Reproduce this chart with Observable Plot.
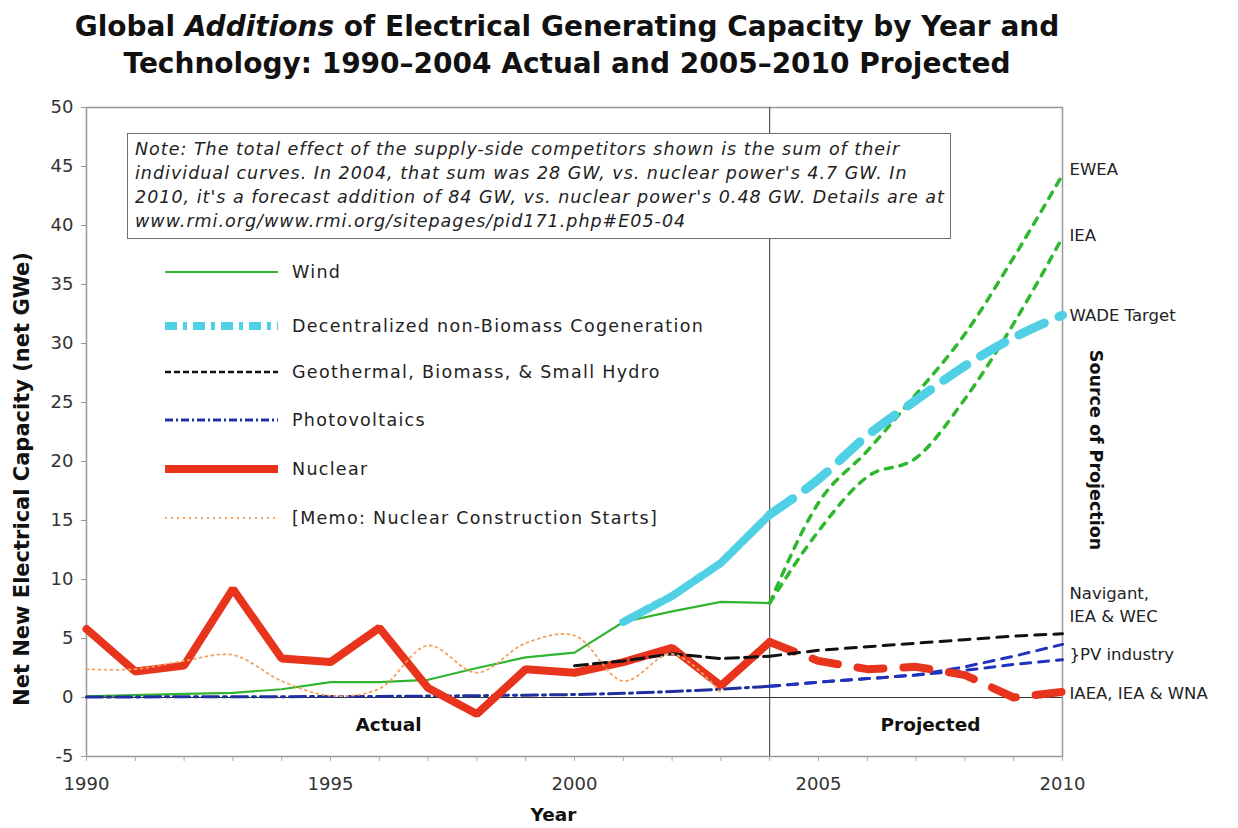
<!DOCTYPE html>
<html>
<head>
<meta charset="utf-8">
<script src="https://cdn.jsdelivr.net/npm/d3@7"></script>
<script src="https://cdn.jsdelivr.net/npm/@observablehq/plot@0.6"></script>
<style>
  body { margin: 0; background: #fff; font-family: "DejaVu Sans", Verdana, sans-serif; color: #222; }
  #wrap { position: relative; width: 1238px; height: 828px; overflow: hidden; }
  #title { position: absolute; left: 0; top: 0; width: 1134px; height: 90px; padding-top: 8px; box-sizing: border-box;
           text-align: center; font-weight: bold; font-size: 28px; line-height: 37px; color: #111; white-space: nowrap; }
  #chart { position: absolute; left: 0; top: 90px; }
  #note { position: absolute; left: 127px; top: 133px; width: 824px; height: 106px; box-sizing: border-box;
          border: 1.8px solid #707070; background: #fff; padding: 3px 7px; font-style: italic; font-size: 17.5px;
          letter-spacing: 1px; line-height: 24px; color: #222; white-space: nowrap; overflow: hidden; }
  #legend { position: absolute; left: 165px; top: 262px; }
  .lrow { position: absolute; left: 0; height: 20px; white-space: nowrap; }
  .lrow svg { position: absolute; left: 0; top: 4px; }
  .lrow span { position: absolute; left: 127px; top: -1px; font-size: 17.5px; letter-spacing: 1.3px; line-height: 22px; color: #222; }
  svg text.wide { letter-spacing: 1px; }
  svg text.ylab { letter-spacing: 1.7px; }
  svg text.src { letter-spacing: 1.3px; }
</style>
</head>
<body>
<div id="wrap">
  <div id="title">Global <i>Additions</i> of Electrical Generating Capacity by Year and<br>Technology: 1990–2004 Actual and 2005–2010 Projected</div>
  <div id="chart"></div>
  <div id="note">Note: The total effect of the supply-side competitors shown is the sum of their<br>individual curves. In 2004, that sum was 28 GW, vs. nuclear power's 4.7 GW. In<br>2010, it's a forecast addition of 84 GW, vs. nuclear power's 0.48 GW. Details are at<br>www.rmi.org/www.rmi.org/sitepages/pid171.php#E05-04</div>
  <div id="legend"></div>
</div>
<script>
// ---------- data ----------
const actualYears = [1990, 1991, 1992, 1993, 1994, 1995, 1996, 1997, 1998, 1999, 2000, 2001, 2002, 2003, 2004];
const windActual    = [0.1, 0.2, 0.3, 0.4, 0.7, 1.3, 1.3, 1.5, 2.5, 3.4, 3.8, 6.4, 7.3, 8.1, 8.0];
const nuclearActual = [5.8, 2.2, 2.7, 9.2, 3.3, 3.0, 5.9, 0.8, -1.4, 2.4, 2.1, 3.0, 4.2, 1.0, 4.7];
const pvActual      = [0.05, 0.05, 0.06, 0.06, 0.07, 0.08, 0.09, 0.12, 0.15, 0.2, 0.25, 0.35, 0.5, 0.7, 0.95];

const memoYears = [1990, 1991, 1992, 1993, 1994, 1995, 1996, 1997, 1998, 1999, 2000, 2001, 2002, 2003];
const memoStarts = [2.4, 2.4, 3.1, 3.6, 1.4, 0.15, 0.75, 4.4, 2.1, 4.6, 5.25, 1.4, 3.7, 0.4];

const geoYears = [2000, 2001, 2002, 2003, 2004];
const geoActual = [2.7, 3.1, 3.7, 3.3, 3.5];

const cogenYears = [2001, 2002, 2003, 2004];
const cogenActual = [6.4, 8.6, 11.4, 15.5];

const projYears = [2004, 2005, 2006, 2007, 2008, 2009, 2010];
const windEWEA    = [8.0, 16.5, 20.9, 25.7, 30.8, 37.3, 44.3];
const windIEA     = [8.0, 14.1, 18.7, 20.3, 25.3, 31.7, 39.0];
const cogenWADE   = [15.5, 18.5, 22.2, 25.2, 28.1, 30.5, 32.4];
const geoProj     = [3.5, 4.0, 4.3, 4.6, 4.9, 5.2, 5.4];
const pvHigh      = [0.95, 1.3, 1.6, 1.9, 2.6, 3.5, 4.5];
const pvLow       = [0.95, 1.3, 1.6, 1.9, 2.3, 2.8, 3.2];
const nuclearProj = [4.7, 3.1, 2.4, 2.6, 1.9, 0.0, 0.48];

const legendLabels = ["Wind", "Decentralized non-Biomass Cogeneration", "Geothermal, Biomass, & Small Hydro",
                      "Photovoltaics", "Nuclear", "[Memo: Nuclear Construction Starts]"];
const sourceLabels = ["EWEA", "IEA", "WADE Target", "Navigant,\nIEA & WEC", "}PV industry", "IAEA, IEA & WNA"];
const sourceLabelValues = [44.9, 39.3, 32.5, 8.0, 3.8, 0.5];
const yTicks = [-5, 0, 5, 10, 15, 20, 25, 30, 35, 40, 45, 50];
const xTicks = [1990, 1995, 2000, 2005, 2010];

// ---------- styles ----------
const S = {
  wind:    {stroke: "#2fb52f", strokeWidth: 2.2},
  windP:   {stroke: "#2db82d", strokeWidth: 3.5, strokeDasharray: "7,8"},
  cogen:   {stroke: "#4fd0e4", strokeWidth: 8, strokeDasharray: "30,4,10,4"},
  cogenP:  {stroke: "#4fd0e4", strokeWidth: 9, strokeDasharray: "28,16", strokeLinecap: "round"},
  geo:     {stroke: "#111", strokeWidth: 3, strokeDasharray: "13,6"},
  geoP:    {stroke: "#111", strokeWidth: 3, strokeDasharray: "11,8"},
  pv:      {stroke: "#1f2f9f", strokeWidth: 3, strokeDasharray: "16,5,3,5"},
  pvP:     {stroke: "#2233bb", strokeWidth: 3, strokeDasharray: "10,8"},
  nuc:     {stroke: "#e8341c", strokeWidth: 8, strokeLinejoin: "miter"},
  nucP:    {stroke: "#e8341c", strokeWidth: 8, strokeDasharray: "26,20"},
  memo:    {stroke: "#f3a35f", strokeWidth: 1.8, strokeDasharray: "2,4"}
};
const legendStyles = [S.wind, {stroke: "#4fd0e4", strokeWidth: 8, strokeDasharray: "12,6,4,6"}, {stroke: "#111", strokeWidth: 2.5, strokeDasharray: "6,3"},
                      {stroke: "#2233aa", strokeWidth: 3, strokeDasharray: "8,3,2,3"}, {stroke: "#e8341c", strokeWidth: 8}, S.memo];

const rows = (xs, ys) => xs.map((x, i) => ({year: x, value: ys[i]}));
const line = (xs, ys, style, extra = {}) => Plot.line(rows(xs, ys), {x: "year", y: "value", ...style, ...extra});
const bold = {fontWeight: "bold", fill: "#111", className: "wide", textAnchor: "middle"};

const chart = Plot.plot({
  width: 1238, height: 738,
  marginTop: 17, marginBottom: 72, marginLeft: 86, marginRight: 176,
  x: {domain: [1990, 2010]},
  y: {domain: [-5, 50]},
  style: {fontFamily: "'DejaVu Sans', Verdana, sans-serif", color: "#333", background: "transparent", overflow: "visible"},
  marks: [
    Plot.frame({stroke: "#999", strokeWidth: 1.5}),
    Plot.axisY({ticks: yTicks, tickSize: 5, tickPadding: 8, fontSize: 18, tickFormat: d => String(d), label: null, stroke: "#999", fill: "#333", className: "wide"}),
    Plot.axisX({ticks: actualYears.concat(projYears.slice(1)), tickSize: 5, tickFormat: () => "", label: null, stroke: "#aaa"}),
    Plot.axisX({ticks: xTicks, tickSize: 0, tickPadding: 21, fontSize: 18, tickFormat: d => String(d), label: null, fill: "#333", className: "wide"}),
    Plot.ruleY([0], {stroke: "#333", strokeWidth: 1}),
    Plot.ruleX([2004], {stroke: "#333", strokeWidth: 1}),
    line(actualYears, windActual, S.wind),
    line(projYears, windEWEA, S.windP, {curve: "monotone-x"}),
    line(projYears, windIEA, S.windP, {curve: "monotone-x"}),
    line(cogenYears, cogenActual, S.cogen),
    line(projYears, cogenWADE, S.cogenP, {curve: "monotone-x"}),
    line(actualYears, pvActual, S.pv),
    line(projYears, pvHigh, S.pvP),
    line(projYears, pvLow, S.pvP),
    line(actualYears, nuclearActual, S.nuc),
    line(projYears, nuclearProj, S.nucP),
    line(geoYears, geoActual, S.geo),
    line(projYears, geoProj, S.geoP),
    line(memoYears, memoStarts, S.memo, {curve: "catmull-rom"}),
    Plot.text(sourceLabels, {x: () => 2010, y: (d, i) => sourceLabelValues[i], dx: 7, textAnchor: "start", fontSize: 16.5, fill: "#222", lineHeight: 1.4, className: "wide"}),
    Plot.text(["Source of Projection"], {...bold, className: "src", frameAnchor: "right", dx: 33, dy: 18, rotate: 90, fontSize: 17.5}),
    Plot.text(["Net New Electrical Capacity (net GWe)"], {...bold, className: "ylab", frameAnchor: "left", dx: -64, dy: 47, rotate: -90, fontSize: 21}),
    Plot.text(["Year"], {...bold, frameAnchor: "bottom", dx: -21, dy: 64, fontSize: 18.5}),
    Plot.text(["Actual"], {...bold, frameAnchor: "bottom", dx: -186, dy: -26, fontSize: 18.5}),
    Plot.text(["Projected"], {...bold, frameAnchor: "bottom", dx: 356, dy: -26, fontSize: 18.5})
  ]
});
document.getElementById("chart").appendChild(chart);

// legend (HTML overlay with line samples)
const legendTops = [0, 54, 100, 148, 197, 246];
const lg = d3.select("#legend");
legendLabels.forEach((lab, i) => {
  const row = lg.append("div").attr("class", "lrow").style("top", legendTops[i] + "px");
  const svg = row.append("svg").attr("width", 116).attr("height", 12);
  const st = legendStyles[i];
  svg.append("line").attr("x1", 0).attr("x2", 113).attr("y1", 6).attr("y2", 6)
    .attr("stroke", st.stroke).attr("stroke-width", Math.min(st.strokeWidth, 8))
    .attr("stroke-dasharray", st.strokeDasharray || null);
  row.append("span").text(lab);
});
</script>
</body>
</html>
